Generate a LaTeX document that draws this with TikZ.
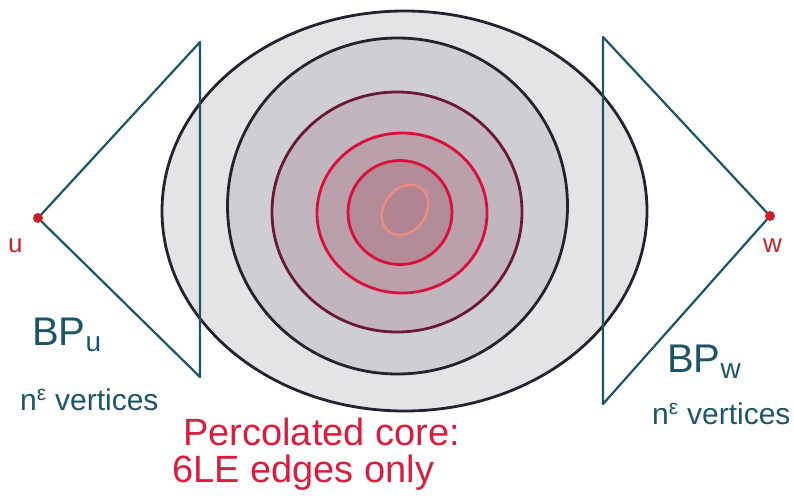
\documentclass[tikz,border=0pt]{standalone}
\usepackage{fontspec}
\setmainfont{Liberation Sans}
\begin{document}
\begin{tikzpicture}[x=1pt,y=-1pt,
  tri/.style={draw=teal1,line width=2.2pt,line join=round,line cap=round},
  ring/.style={line width=2.8pt},
  dotnode/.style={circle,fill=dotred,inner sep=0pt,minimum size=10pt},
  redtxt/.style={text=txtred,inner sep=0pt,anchor=base west},
  tealtxt/.style={text=teal1,inner sep=0pt,anchor=base west}]
\definecolor{teal1}{HTML}{1D5566}
\definecolor{dotred}{HTML}{C8202A}
\definecolor{txtred}{HTML}{D81E3C}
\definecolor{outl}{HTML}{25222E}
\definecolor{maroon1}{HTML}{6B1A35}
\definecolor{crim}{HTML}{DC0E3A}
\definecolor{salm}{HTML}{F08A84}
\useasboundingbox (0,0) rectangle (794,495);
% rings
\draw[ring,draw=outl,fill={rgb,255:red,228;green,228;blue,230}] (404.5,211) ellipse [x radius=242.5,y radius=200];
\draw[ring,draw=outl,fill={rgb,255:red,207;green,207;blue,211}] (397.5,206) ellipse [x radius=170,y radius=168];
\draw[ring,draw=maroon1,fill={rgb,255:red,195;green,181;blue,189}] (397,212) ellipse [x radius=125,y radius=120];
\draw[ring,draw=crim,fill={rgb,255:red,186;green,160;blue,170}] (402,213) ellipse [x radius=85,y radius=80];
\draw[ring,draw=crim,fill={rgb,255:red,180;green,140;blue,152}] (400,212.5) ellipse [x radius=52,y radius=52];
\draw[line width=2.2pt,draw=salm,fill={rgb,255:red,178;green,132;blue,146},rotate around={55:(405,210)}] (405,210) ellipse [x radius=27,y radius=21];
% triangles
\coordinate (ltop) at (200,42);
\coordinate (lbot) at (200,377);
\coordinate (rtop) at (603,37);
\coordinate (rbot) at (603,404);
\coordinate (uc) at (38,218);
\coordinate (wc) at (770,216);
\draw[tri] (uc) -- (ltop) -- (lbot) -- (uc);
\draw[tri] (wc) -- (rtop) -- (rbot) -- (wc);
\node[dotnode] (u) at (uc) {};
\node[dotnode] (w) at (wc) {};
% labels
\node[text=dotred,inner sep=0pt,anchor=base west,font=\fontsize{26}{28}\selectfont] (ulab) at (8,252) {u};
\node[text=dotred,inner sep=0pt,anchor=base west,font=\fontsize{26}{28}\selectfont] (wlab) at (763,252) {w};
\node[tealtxt,font=\fontsize{40}{44}\selectfont] (bpu) at (32,345) {BP\textsubscript{u}};
\node[tealtxt,font=\fontsize{30}{34}\selectfont] (nu) at (20,410) {n\textsuperscript{ε} vertices};
\node[tealtxt,font=\fontsize{40}{44}\selectfont] (bpw) at (667,372) {BP\textsubscript{w}};
\node[tealtxt,font=\fontsize{30}{34}\selectfont] (nw) at (652,424) {n\textsuperscript{ε} vertices};
\node[redtxt,font=\fontsize{38}{42}\selectfont] (core) at (183,445) {Percolated core:};
\node[redtxt,font=\fontsize{38}{42}\selectfont] (edges) at (172,482) {6LE edges only};
\end{tikzpicture}
\end{document}
